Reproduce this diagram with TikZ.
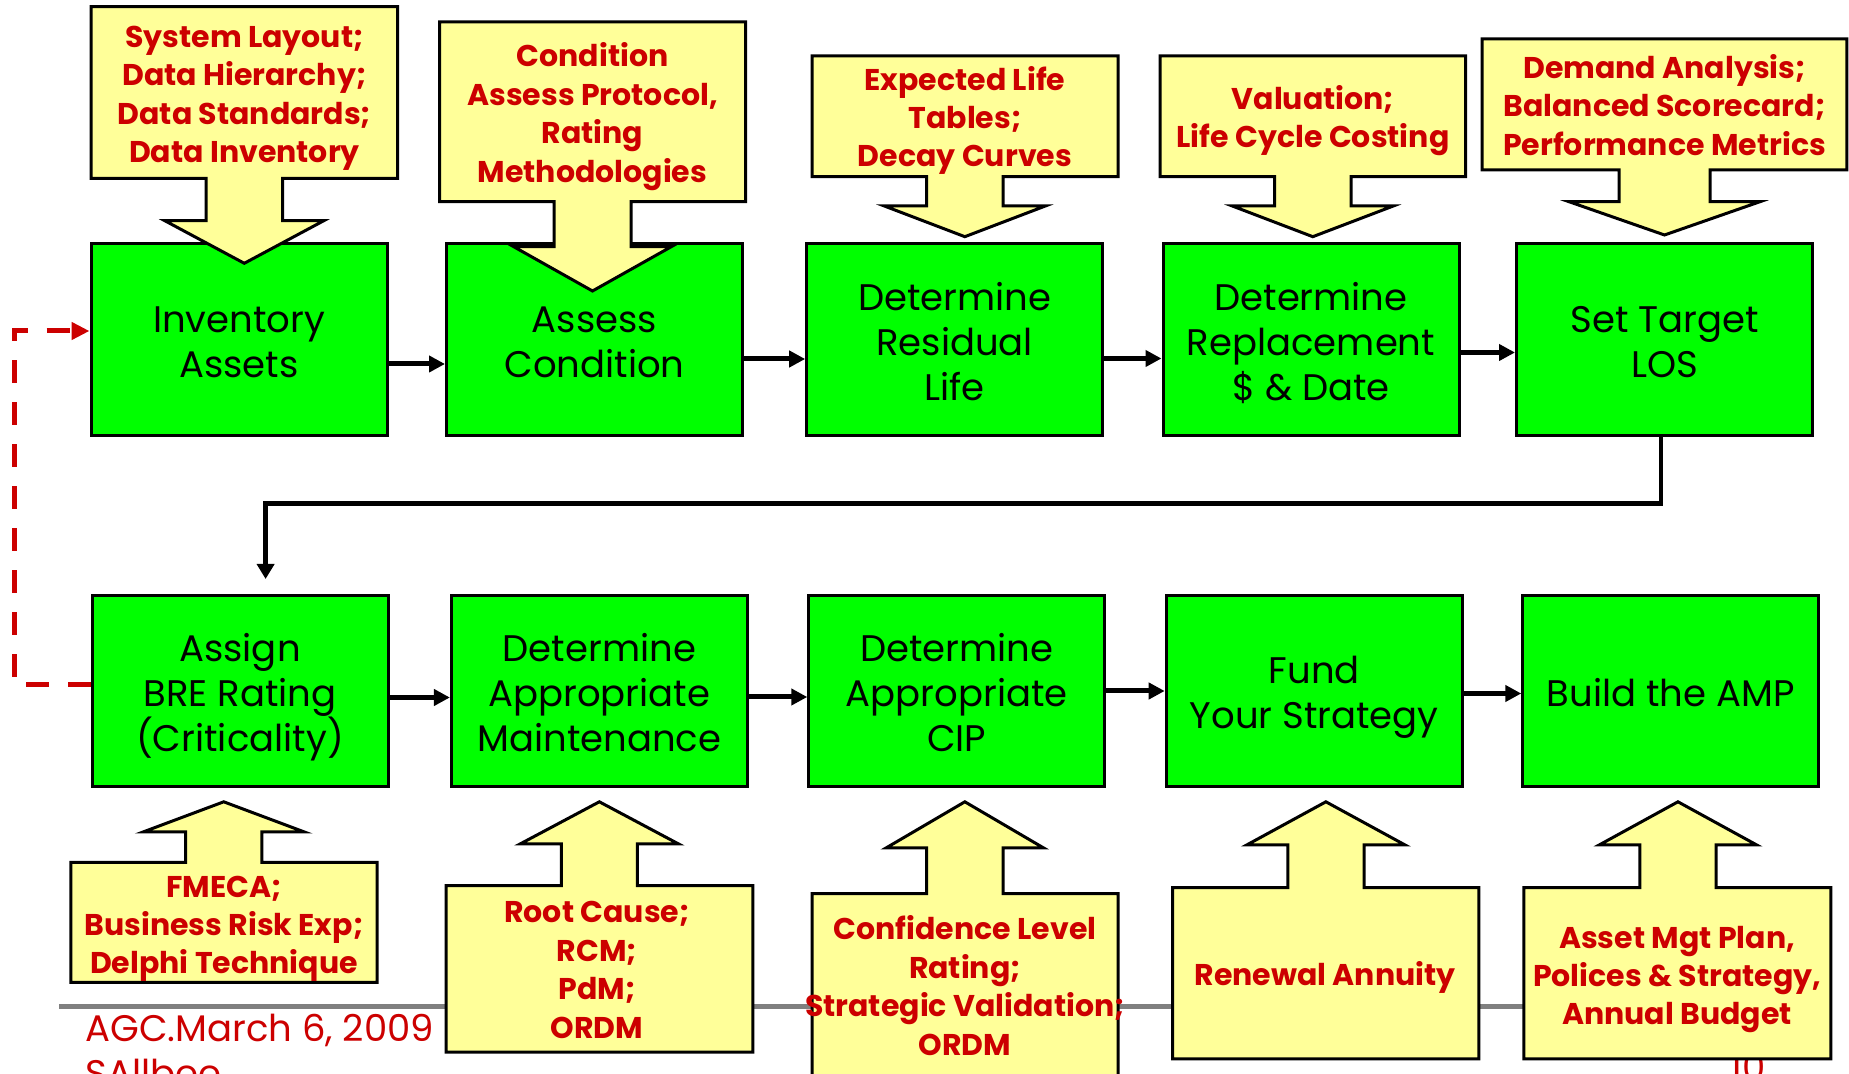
\documentclass[tikz,border=0pt]{standalone}
\usepackage{fontspec}
\setmainfont{Poppins}
\usetikzlibrary{arrows.meta}
\definecolor{stagegreen}{HTML}{00FF00}
\definecolor{noteyellow}{HTML}{FFFF99}
\definecolor{notered}{HTML}{CC0000}
\definecolor{rulegray}{HTML}{808080}

% invisible struts: a tall one for the first line, a deep one for the last line
\newcommand\steptext[1]{\rule{0pt}{20.8pt}#1\rule[-5.5pt]{0pt}{5.5pt}}
\newcommand\notelines[1]{\rule{0pt}{17pt}#1\rule[-4.5pt]{0pt}{4.5pt}}

% yellow note box with a block arrow: L R far-edge near-edge shaft1 shaft2 head-base head-halfwidth tip-y
\newcommand\calloutshape[9]{%
  \draw[callout] (#1,#3) -- (#2,#3) -- (#2,#4) -- (#6,#4) -- (#6,#7)
    -- ({(#5+#6)/2+#8},#7) -- ({(#5+#6)/2},#9) -- ({(#5+#6)/2-#8},#7)
    -- (#5,#7) -- (#5,#4) -- (#1,#4) -- cycle;}

\begin{document}
\begin{tikzpicture}[x=0.5pt,y=-0.5pt,
  stage/.style={draw=black, line width=1.5pt, fill=stagegreen, minimum width=148pt,
    inner sep=0pt, align=center, font=\fontsize{18.5}{22.5}\selectfont},
  toprow/.style={stage, minimum height=96pt},
  botrow/.style={stage, minimum height=95.5pt},
  callout/.style={draw=black, line width=1.5pt, fill=noteyellow, line join=miter},
  notetext/.style={text=notered, align=center, inner sep=0pt,
    font=\bfseries\fontsize{15}{19.2}\selectfont},
  flow/.style={line width=2.5pt, -{Triangle[length=8pt,width=8pt]}},
  loopflow/.style={line width=2.3pt, line join=miter, -{Triangle[length=7.5pt,width=8.5pt]}},
  feedback/.style={draw=notered, line width=2.5pt, dash pattern=on 11.5pt off 9.5pt,
    -{Triangle[length=9pt,width=8.5pt]}},
  footer/.style={text=notered, inner sep=0pt, font=\fontsize{18.5}{22}\selectfont},
]
\useasboundingbox (0,0) rectangle (1849,1074);
\clip (0,0) rectangle (1849,1074);
\fill[white] (0,0) rectangle (1849,1074);

% footer rule and footer texts
\draw[rulegray, line width=2.5pt] (59,1006) -- (1800,1006);
\node[footer, anchor=base west] (date) at (85,1041.7) {AGC.March 6, 2009};
\node[footer, anchor=base west] (author) at (85,1086) {SAllbee};
\node[footer, anchor=base] (page) at (1748,1080) {10};

% process steps, first row
\node[toprow] (b1) at (239,340) {\steptext{Inventory\\Assets}};
\node[toprow] (b2) at (594.5,340) {\steptext{Assess\\Condition}};
\node[toprow] (b3) at (954.7,340) {\steptext{Determine\\Residual\\Life}};
\node[toprow] (b4) at (1311,340) {\steptext{Determine\\Replacement\\\$ \& Date}};
\node[toprow] (b5) at (1664.5,340) {\steptext{Set Target\\LOS}};

% process steps, second row
\node[botrow] (b6) at (240,691) {\steptext{Assign\\BRE Rating\\(Criticality)}};
\node[botrow] (b7) at (599.4,691) {\steptext{Determine\\Appropriate\\Maintenance}};
\node[botrow] (b8) at (956.8,691) {\steptext{Determine\\Appropriate\\CIP}};
\node[botrow] (b9) at (1314.2,691) {\steptext{Fund\\Your Strategy}};
\node[botrow] (b10) at (1670.8,691) {\steptext{Build the AMP}};

% heights of the step-to-step arrows
\coordinate (r1a) at (0,364);
\coordinate (r1b) at (0,359);
\coordinate (r1c) at (0,358.5);
\coordinate (r1d) at (0,352.5);
\coordinate (r2a) at (0,697.5);
\coordinate (r2b) at (0,697);
\coordinate (r2c) at (0,691);
\coordinate (r2d) at (0,693.5);

\draw[flow] (b1.east |- r1a) -- (b2.west |- r1a);
\draw[flow] (b2.east |- r1b) -- (b3.west |- r1b);
\draw[flow] (b3.east |- r1c) -- (b4.west |- r1c);
\draw[flow] (b4.east |- r1d) -- (b5.west |- r1d);
\draw[flow] (b6.east |- r2a) -- (b7.west |- r2a);
\draw[flow] (b7.east |- r2b) -- (b8.west |- r2b);
\draw[flow] (b8.east |- r2c) -- (b9.west |- r2c);
\draw[flow] (b9.east |- r2d) -- (b10.west |- r2d);

% wrap from the first row to the second
\coordinate (turn) at (265.6,503.7);
\coordinate (drop) at (265.6,579);
\draw[loopflow] ([xshift=-1.75pt]b5.south) |- (turn) -- (drop);

% feedback loop back to the start
\coordinate (fbbot) at (14.5,684.8);
\coordinate (fbtop) at (14.5,331);
\draw[feedback] (b6.west |- fbbot) -- (fbbot) -- (fbtop) -- (b1.west |- fbtop);

% inputs above the first row
\calloutshape{91}{397.5}{6.7}{178.3}{206}{282.6}{220.7}{79.5}{263.3}
\calloutshape{439.6}{745.5}{22}{201.7}{554}{631}{246.7}{78.8}{291}
\calloutshape{812}{1118}{56}{176.7}{926.7}{1003}{206}{80.5}{236.7}
\calloutshape{1160}{1465.6}{56}{176.7}{1274.6}{1351}{206}{80.5}{236.7}
\calloutshape{1482}{1846.8}{39}{170}{1619}{1710}{201.7}{95.5}{235}

% inputs below the second row
\calloutshape{70.8}{377}{982.4}{862.3}{185.7}{261.8}{832}{80.7}{801.8}
\calloutshape{446}{752.8}{1052}{885.7}{561.3}{637.4}{844}{79.3}{801.8}
\calloutshape{812}{1118}{1100}{893.7}{926.7}{1003}{848}{78.85}{801.8}
\calloutshape{1172.5}{1478.8}{1058.8}{887.7}{1287.8}{1364}{845}{79.2}{801.8}
\calloutshape{1523.9}{1830.8}{1058.8}{887.7}{1639.9}{1716}{845}{78.8}{801.8}

\node[notetext] (n1) at (244.5,92.5) {\notelines{System Layout;\\Data Hierarchy;\\Data Standards;\\Data Inventory}};
\node[notetext] (n2) at (592.5,112) {\notelines{Condition\\Assess Protocol,\\Rating\\Methodologies}};
\node[notetext] (n3) at (965,116) {\notelines{Expected Life\\Tables;\\Decay Curves}};
\node[notetext] (n4) at (1313,116) {\notelines{Valuation;\\Life Cycle Costing}};
\node[notetext] (n5) at (1664.5,104.5) {\notelines{Demand Analysis;\\Balanced Scorecard;\\Performance Metrics}};

\node[notetext] (n6) at (224,923) {\notelines{FMECA;\\Business Risk Exp;\\Delphi Technique}};
\node[notetext] (n7) at (597,968) {\notelines{Root Cause;\\RCM;\\PdM;\\ORDM}};
\node[notetext] (n8) at (965,985) {\notelines{Confidence Level\\Rating;\\Strategic Validation;\\ORDM}};
\node[notetext] (n9) at (1325,973) {\notelines{Renewal Annuity}};
\node[notetext] (n10) at (1677,974) {\notelines{Asset Mgt Plan,\\Polices \& Strategy,\\Annual Budget}};
\end{tikzpicture}
\end{document}
